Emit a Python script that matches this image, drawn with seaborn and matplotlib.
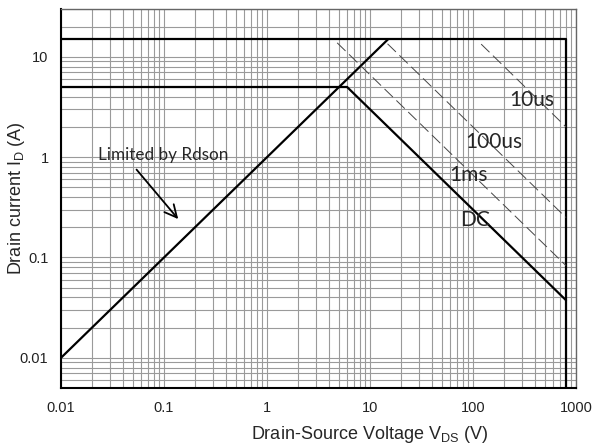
import numpy as np
import pandas as pd
import seaborn as sns
import matplotlib.pyplot as plt

# SOA curve data (Vds in V, Id in A)
rdson_v = [0.01, 15]
rdson_i = [0.01, 15]
limit15_v = [0.01, 800, 800]
limit15_i = [15, 15, 0.005]
limit5_v = [0.01, 6]
limit5_i = [5, 5]
dc_v = [6, 800]
dc_i = [5, 0.0375]

# pulsed limits (dashed)
ms1_v = [4.8, 800]
ms1_i = [13.8, 0.083]
us100_v = [14.8, 800]
us100_i = [13.5, 0.25]
us10_v = [120, 800]
us10_i = [13.4, 2.0]

pulse_labels = ['10us', '100us', '1ms', 'DC']
label_v = [374, 160, 91, 104]
label_i = [3.7, 1.41, 0.66, 0.234]

x_ticks = [0.01, 0.1, 1, 10, 100, 1000]
x_ticklabels = ['0.01', '0.1', '1', '10', '100', '1000']
y_ticks = [0.01, 0.1, 1, 10]
y_ticklabels = ['0.01', '0.1', '1', '10']

sns.set_style('white')
plt.rcParams['font.family'] = ['Liberation Sans', 'DejaVu Sans']

fig = plt.figure(figsize=(5.93, 4.45), dpi=100)
ax = fig.add_axes([61 / 593, 1 - 388 / 445, 515 / 593, 379 / 445])
ax.set_xscale('log')
ax.set_yscale('log')
ax.set_xlim(0.01, 1000)
ax.set_ylim(0.005, 30)

# grid
ax.grid(True, which='both', color='#9a9a9a', lw=0.8)
ax.set_axisbelow(True)

solid = dict(color='black', lw=1.6, sort=False, estimator=None, ax=ax)
for v, i in [(rdson_v, rdson_i), (limit15_v, limit15_i),
             (limit5_v, limit5_i), (dc_v, dc_i)]:
    sns.lineplot(x=v, y=i, **solid)

for v, i in [(ms1_v, ms1_i), (us100_v, us100_i), (us10_v, us10_i)]:
    line = sns.lineplot(x=v, y=i, color='#444444', lw=0.7, sort=False,
                        estimator=None, ax=ax).lines[-1]
    line.set_dashes([12, 5])

for txt, v, i in zip(pulse_labels, label_v, label_i):
    ax.text(v, i, txt, fontsize=15, family=['Lato', 'DejaVu Sans'],
            ha='center', va='center')

ax.text(0.023, 1.05, 'Limited by Rdson', fontsize=12.3,
        family=['Lato', 'DejaVu Sans'], ha='left', va='center')
ax.annotate('', xy=(0.143, 0.23), xytext=(0.052, 0.79),
            arrowprops=dict(arrowstyle='->', color='black', lw=1.3,
                            mutation_scale=22))

ax.set_xticks(x_ticks)
ax.set_xticklabels(x_ticklabels)
ax.set_yticks(y_ticks)
ax.set_yticklabels(y_ticklabels)
ax.tick_params(which='both', length=0, labelsize=10.5, colors='#222222', pad=9)

for side in ['left', 'bottom']:
    ax.spines[side].set_color('black')
    ax.spines[side].set_linewidth(1.5)
for side in ['top', 'right']:
    ax.spines[side].set_color('#666666')
    ax.spines[side].set_linewidth(1.0)

ax.set_xlabel(r'Drain-Source Voltage V$_{\mathregular{DS}}$ (V)', fontsize=13)
ax.xaxis.set_label_coords((370 - 61) / 515, -0.095)
ax.set_ylabel(r'Drain current I$_{\mathregular{D}}$ (A)', fontsize=13)
ax.yaxis.set_label_coords((27 - 61) / 515, 0.5)

fig.savefig('out.png', dpi=100)
